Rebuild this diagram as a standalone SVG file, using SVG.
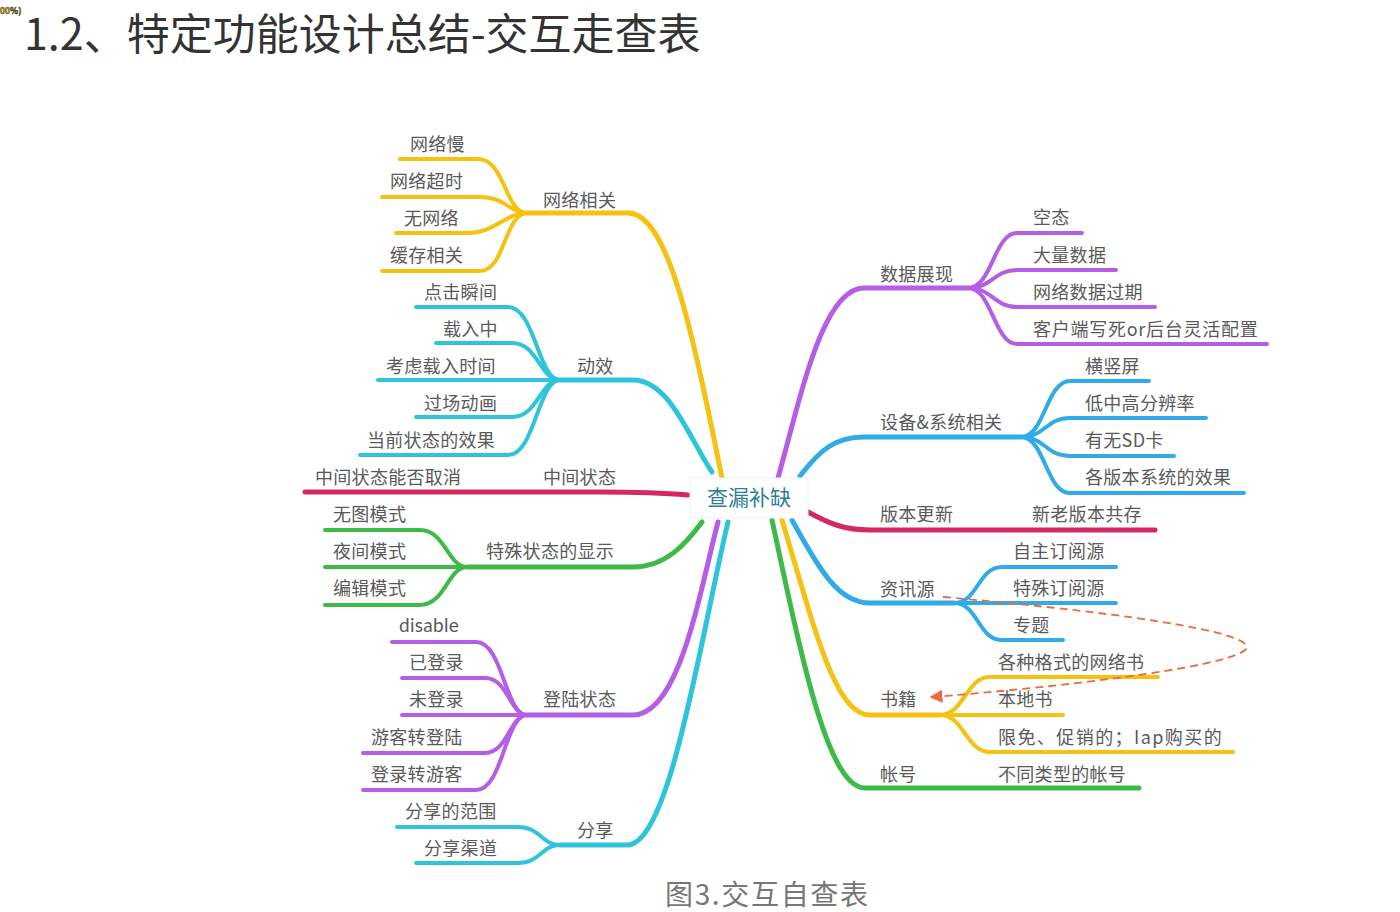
<svg xmlns="http://www.w3.org/2000/svg" width="1400" height="912" viewBox="0 0 1400 912">
<style>
text{font-family:"Noto Sans CJK SC","Noto Sans",sans-serif;}
.t{font-size:18px;fill:#5a5a5a;letter-spacing:0.3px;}
.l{fill:none;stroke-linecap:round;stroke-linejoin:round;stroke-width:4;}
.m{stroke-width:5;}
.y{stroke:#f5c211;}
.c{stroke:#2ec5da;}
.r{stroke:#d4285f;}
.g{stroke:#3dba48;}
.p{stroke:#b65de6;}
.b{stroke:#31aae8;}
</style>
<defs>
<marker id="ah" viewBox="0 0 10 10" refX="8" refY="5" markerWidth="13" markerHeight="13" orient="auto" markerUnits="userSpaceOnUse">
<path d="M0,0 L10,5 L0,10 z" fill="#ec6a3c"/>
</marker>
</defs>
<rect width="1400" height="912" fill="#ffffff"/>
<text x="0" y="14" font-size="8.5" font-weight="bold" fill="#f2e000" stroke="#222" stroke-width="0.5">00%)</text>
<text x="24" y="50" font-size="43" fill="#333">1.2、特定功能设计总结-交互走查表</text>

<g id="connectors">
<!-- 网络相关 -->
<path class="l m y" d="M527 213 H628 C668 213 692 330 722 478"/>
<path class="l y" d="M400 159 H478 C505 159 505 213 527 213"/>
<path class="l y" d="M382 197 H480 C505 197 510 213 527 213"/>
<path class="l y" d="M396 233 H468 C495 233 505 213 527 213"/>
<path class="l y" d="M382 271 H480 C505 271 505 213 527 213"/>
<!-- 动效 -->
<path class="l m c" d="M560 380 H633 C670 380 690 440 712 472"/>
<path class="l c" d="M416 307 H508 C535 307 538 380 560 380"/>
<path class="l c" d="M436 343 H512 C538 343 540 380 560 380"/>
<path class="l c" d="M378 380 H560"/>
<path class="l c" d="M416 417 H512 C538 417 540 380 560 380"/>
<path class="l c" d="M360 455 H508 C535 455 538 380 560 380"/>
<!-- 中间状态 -->
<path class="l m r" d="M305 492 H600 C640 492 665 493 688 495"/>
<!-- 特殊状态的显示 -->
<path class="l m g" d="M467 567 H633 C665 567 685 545 702 522"/>
<path class="l g" d="M325 530 H420 C445 530 448 567 467 567"/>
<path class="l g" d="M325 567 H467"/>
<path class="l g" d="M325 605 H420 C445 605 448 567 467 567"/>
<!-- 登陆状态 -->
<path class="l m p" d="M527 715 H633 C680 715 700 590 718 522"/>
<path class="l p" d="M392 642 H476 C503 642 505 715 527 715"/>
<path class="l p" d="M402 678 H485 C508 678 510 715 527 715"/>
<path class="l p" d="M402 715 H527"/>
<path class="l p" d="M363 753 H485 C508 753 510 715 527 715"/>
<path class="l p" d="M363 790 H476 C503 790 505 715 527 715"/>
<!-- 分享 -->
<path class="l m c" d="M560 845 H627 C670 845 700 640 728 522"/>
<path class="l c" d="M397 827 H518 C540 827 542 845 560 845"/>
<path class="l c" d="M416 863 H518 C540 863 542 845 560 845"/>
<!-- 数据展现 -->
<path class="l m p" d="M778 478 C800 400 822 288 864 288 H968"/>
<path class="l p" d="M968 288 C992 288 994 233 1017 233 H1082"/>
<path class="l p" d="M968 288 C992 288 994 270 1017 270 H1116"/>
<path class="l p" d="M968 288 C992 288 994 307 1017 307 H1155"/>
<path class="l p" d="M968 288 C992 288 994 344 1017 344 H1267"/>
<!-- 设备&系统相关 -->
<path class="l m b" d="M800 476 C820 450 835 437 864 437 H1021"/>
<path class="l b" d="M1021 437 C1045 437 1046 381 1070 381 H1149"/>
<path class="l b" d="M1021 437 C1045 437 1046 418 1070 418 H1206"/>
<path class="l b" d="M1021 437 C1045 437 1046 456 1070 456 H1174"/>
<path class="l b" d="M1021 437 C1045 437 1046 493 1070 493 H1244"/>
<!-- 版本更新 -->
<path class="l m r" d="M808 512 C830 524 845 530 870 530 H1155"/>
<!-- 资讯源 -->
<path class="l m b" d="M792 520 C820 570 838 603 870 603 H954"/>
<path class="l b" d="M954 603 C978 603 978 567 1002 567 H1116"/>
<path class="l b" d="M954 603 H1116"/>
<path class="l b" d="M954 603 C978 603 978 640 1002 640 H1063"/>
<!-- 书籍 -->
<path class="l m y" d="M782 520 C815 630 835 715 870 715 H940"/>
<path class="l y" d="M940 715 C964 715 966 677 990 677 H1158"/>
<path class="l y" d="M940 715 H1063"/>
<path class="l y" d="M940 715 C964 715 966 752 990 752 H1233"/>
<!-- 帐号 -->
<path class="l m g" d="M772 520 C802 660 828 788 865 788 H1139"/>
<!-- dashed link -->
<path d="M943 597 C1150 615 1262 635 1245 650 C1225 668 1050 688 932 697" fill="none" stroke="#ec6a3c" stroke-width="1.8" stroke-dasharray="8 5" marker-end="url(#ah)"/>
</g>

<g id="center">
<rect x="690" y="478" width="118" height="40" fill="#ffffff" stroke="#eef2f3" stroke-width="1"/>
<text x="749" y="505" font-size="21" fill="#2f7f95" text-anchor="middle">查漏补缺</text>
</g>

<g id="n-wangluo"><text class="t" x="543" y="207">网络相关</text></g>
<g id="n-wangluoman"><text class="t" x="410" y="151">网络慢</text></g>
<g id="n-chaoshi"><text class="t" x="390" y="188">网络超时</text></g>
<g id="n-wuwangluo"><text class="t" x="404" y="225">无网络</text></g>
<g id="n-huancun"><text class="t" x="390" y="262">缓存相关</text></g>

<g id="n-dongxiao"><text class="t" x="577" y="373">动效</text></g>
<g id="n-dianji"><text class="t" x="424" y="299">点击瞬间</text></g>
<g id="n-zairu"><text class="t" x="443" y="336">载入中</text></g>
<g id="n-kaolv"><text class="t" x="386" y="373">考虑载入时间</text></g>
<g id="n-guochang"><text class="t" x="424" y="410">过场动画</text></g>
<g id="n-dangqian"><text class="t" x="367" y="447">当前状态的效果</text></g>

<g id="n-zhongjian"><text class="t" x="543" y="484">中间状态</text></g>
<g id="n-quxiao"><text class="t" x="315" y="484">中间状态能否取消</text></g>

<g id="n-teshu"><text class="t" x="486" y="558">特殊状态的显示</text></g>
<g id="n-wutu"><text class="t" x="333" y="521">无图模式</text></g>
<g id="n-yejian"><text class="t" x="333" y="558">夜间模式</text></g>
<g id="n-bianji"><text class="t" x="333" y="595">编辑模式</text></g>

<g id="n-denglu"><text class="t" x="543" y="706">登陆状态</text></g>
<g id="n-disable"><text class="t" x="399" y="632" style="font-family:'Lato','Open Sans',sans-serif;font-size:19px">disable</text></g>
<g id="n-yidenglu"><text class="t" x="409" y="669">已登录</text></g>
<g id="n-weidenglu"><text class="t" x="409" y="706">未登录</text></g>
<g id="n-youke1"><text class="t" x="371" y="744">游客转登陆</text></g>
<g id="n-youke2"><text class="t" x="371" y="781">登录转游客</text></g>

<g id="n-fenxiang"><text class="t" x="577" y="837">分享</text></g>
<g id="n-fanwei"><text class="t" x="405" y="818">分享的范围</text></g>
<g id="n-qudao"><text class="t" x="424" y="855">分享渠道</text></g>

<g id="n-shuju"><text class="t" x="880" y="281">数据展现</text></g>
<g id="n-kongtai"><text class="t" x="1033" y="224">空态</text></g>
<g id="n-daliang"><text class="t" x="1033" y="262">大量数据</text></g>
<g id="n-guoqi"><text class="t" x="1033" y="299">网络数据过期</text></g>
<g id="n-kehuduan"><text class="t" x="1033" y="336" textLength="225" lengthAdjust="spacing">客户端写死or后台灵活配置</text></g>

<g id="n-shebei"><text class="t" x="880" y="429">设备&amp;系统相关</text></g>
<g id="n-hengshu"><text class="t" x="1085" y="373">横竖屏</text></g>
<g id="n-fenbian"><text class="t" x="1085" y="410">低中高分辨率</text></g>
<g id="n-sd"><text class="t" x="1085" y="447">有无SD卡</text></g>
<g id="n-banben"><text class="t" x="1085" y="484">各版本系统的效果</text></g>

<g id="n-gengxin"><text class="t" x="880" y="521">版本更新</text></g>
<g id="n-gongcun"><text class="t" x="1032" y="521">新老版本共存</text></g>

<g id="n-zixun"><text class="t" x="880" y="596">资讯源</text></g>
<g id="n-zizhu"><text class="t" x="1013" y="558">自主订阅源</text></g>
<g id="n-teshudingyue"><text class="t" x="1013" y="595">特殊订阅源</text></g>
<g id="n-zhuanti"><text class="t" x="1013" y="632">专题</text></g>

<g id="n-shuji"><text class="t" x="880" y="706">书籍</text></g>
<g id="n-gezhong"><text class="t" x="998" y="669">各种格式的网络书</text></g>
<g id="n-bendi"><text class="t" x="998" y="706">本地书</text></g>
<g id="n-xianmian"><text class="t" x="998" y="744" textLength="224" lengthAdjust="spacing">限免、促销的；Iap购买的</text></g>

<g id="n-zhanghao"><text class="t" x="880" y="781">帐号</text></g>
<g id="n-leixing"><text class="t" x="998" y="781">不同类型的帐号</text></g>

<text x="665" y="905" font-size="28" fill="#777" textLength="203" lengthAdjust="spacing">图3.交互自查表</text>
</svg>
